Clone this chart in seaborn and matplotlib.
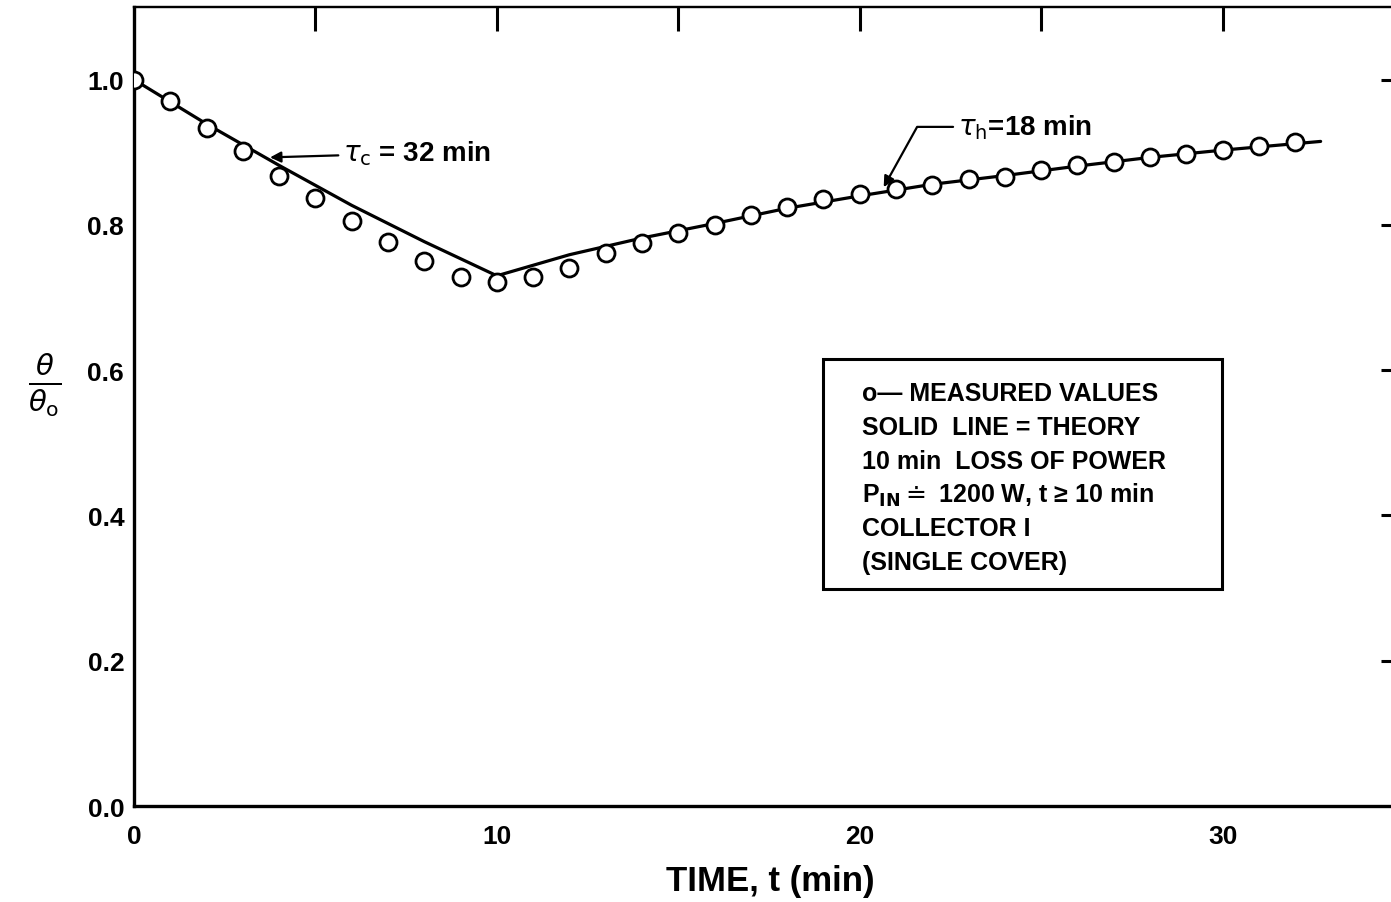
import matplotlib
matplotlib.use("Agg")
import matplotlib.pyplot as plt
import matplotlib.patches as mpatches
import seaborn as sns
import pandas as pd

# Measured temperature ratio, one reading per minute
measured_t = list(range(0, 33))
measured_ratio = [1.000, 0.970, 0.933, 0.902, 0.867, 0.837, 0.805, 0.776, 0.750, 0.728,
                  0.721, 0.728, 0.741, 0.761, 0.775, 0.789, 0.800, 0.814, 0.825, 0.836,
                  0.842, 0.849, 0.855, 0.863, 0.866, 0.875, 0.882, 0.886, 0.893, 0.898,
                  0.903, 0.909, 0.914]

# Theory curve: cooling (tau_c = 32 min) then heating (tau_h = 18 min)
theory_t = [0, 2, 4, 6, 8, 10, 12, 14, 16, 18, 20, 22, 24, 26, 28, 30, 32.7]
theory_ratio = [1.000, 0.939, 0.882, 0.827, 0.777, 0.730, 0.759, 0.782, 0.802,
                0.823, 0.840, 0.856, 0.868, 0.881, 0.893, 0.903, 0.915]

x_ticks = [0, 5, 10, 15, 20, 25, 30]
x_tick_labels = ["0", "", "10", "", "20", "", "30"]
y_ticks = [0.0, 0.2, 0.4, 0.6, 0.8, 1.0]
y_tick_labels = ["0.0", "0.2", "0.4", "0.6", "0.8", "1.0"]

legend_lines = [
    "o\u2014 MEASURED VALUES",
    "SOLID  LINE = THEORY",
    "10 min  LOSS OF POWER",
    "P$_{\\mathbf{IN}}\\doteq$ 1200 W, t \u2265 10 min",
    "COLLECTOR I",
    "(SINGLE COVER)",
]

sns.set_style("white")
plt.rcParams["font.family"] = ["Liberation Sans", "DejaVu Sans"]
plt.rcParams["mathtext.fontset"] = "dejavusans"
plt.rcParams["text.color"] = "black"
plt.rcParams["axes.labelcolor"] = "black"
plt.rcParams["xtick.color"] = "black"
plt.rcParams["ytick.color"] = "black"

measured = pd.DataFrame({"t": measured_t, "ratio": measured_ratio})
theory = pd.DataFrame({"t": theory_t, "ratio": theory_ratio})

fig = plt.figure(figsize=(13.91, 9.03), dpi=100)
ax = fig.add_axes([0.0963, 0.1063, 0.9066, 0.8848])

sns.lineplot(data=theory, x="t", y="ratio", sort=False, estimator=None,
             color="black", linewidth=2.3, ax=ax, zorder=2)
sns.scatterplot(data=measured, x="t", y="ratio", marker="o", s=150,
                facecolor="white", edgecolor="black", linewidth=2.0,
                ax=ax, zorder=3)

ax.set_xlim(0, 34.75)
ax.set_ylim(0, 1.1)

ax.set_xticks(x_ticks)
ax.set_xticklabels(x_tick_labels)
ax.set_yticks(y_ticks)
ax.set_yticklabels(y_tick_labels)
ax.tick_params(axis="both", direction="in", length=13.5, width=2.2,
               labelsize=19, colors="black")
ax.tick_params(axis="x", pad=13)
ax.tick_params(axis="y", pad=7)
for lbl in ax.get_xticklabels() + ax.get_yticklabels():
    lbl.set_fontweight("bold")

for side in ["left", "bottom"]:
    ax.spines[side].set_linewidth(2.4)
    ax.spines[side].set_color("black")
ax.spines["top"].set_linewidth(1.6)
ax.spines["top"].set_color("black")
ax.spines["right"].set_visible(False)

top = ax.secondary_xaxis("top")
top.set_xticks([5, 10, 15, 20, 25, 30, 35])
top.tick_params(direction="in", length=17, width=2.2, labeltop=False)
top.spines["top"].set_linewidth(1.6)

right = ax.secondary_yaxis("right")
right.set_yticks([0.2, 0.4, 0.6, 0.8, 1.0])
right.tick_params(direction="in", length=10, width=2.2, labelright=False)

ax.set_xlabel("TIME, t (min)", fontsize=25, fontweight="bold")
ax.xaxis.set_label_coords(0.505, -0.093)
ax.xaxis.label.set_va("center")
ax.set_ylabel(r"$\frac{\theta}{\theta_{\mathrm{o}}}$", fontsize=30, rotation=0)
ax.yaxis.set_label_coords(-0.071, 0.528)
ax.yaxis.label.set_va("center")
ax.yaxis.label.set_ha("center")

arrow = dict(arrowstyle="-|>", color="black", lw=1.6, mutation_scale=16,
             shrinkA=1, shrinkB=0)
ax.annotate(r"$\tau_{\mathrm{c}}$ = 32 min", xy=(3.75, 0.893), xytext=(5.76, 0.899),
            fontsize=20, fontweight="bold", ha="left", va="center", arrowprops=arrow)
ax.annotate(r"$\tau_{\mathrm{h}}$=18 min", xy=(20.66, 0.852), xytext=(22.7, 0.935),
            fontsize=20, fontweight="bold", ha="left", va="center",
            arrowprops=dict(arrow, connectionstyle="angle,angleA=0,angleB=61,rad=0"))

box = mpatches.Rectangle((0.5464, 0.2716), 0.3164, 0.2878, transform=ax.transAxes,
                         facecolor="white", edgecolor="black", linewidth=2.2, zorder=4)
ax.add_patch(box)
line_y0, line_step = 0.5169, 0.0423
for i, line in enumerate(legend_lines):
    ax.text(0.5773, line_y0 - i * line_step, line, transform=ax.transAxes,
            fontsize=18, fontweight="bold", ha="left", va="center", zorder=5)

fig.savefig("out.png", dpi=100, facecolor="white")
